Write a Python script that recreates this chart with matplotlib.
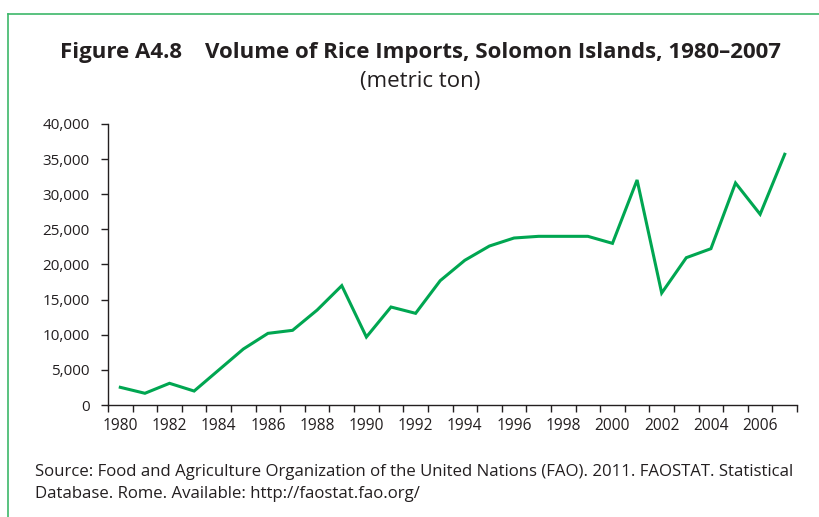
import numpy as np
import matplotlib
matplotlib.use("Agg")
import matplotlib.pyplot as plt
from matplotlib.lines import Line2D

plt.rcParams["font.family"] = ["Open Sans", "DejaVu Sans"]

# data
years = list(range(1980, 2008))
imports = [
    2520, 1670, 3090, 1990, 4980, 7970, 10200, 10630, 13520, 16990,
    9680, 13950, 13050, 17700, 20600, 22630, 23770, 24010, 24010, 24010,
    23010, 32030, 15940, 20970, 22250, 31600, 27150, 35690,
]
y_ticks = [0, 5000, 10000, 15000, 20000, 25000, 30000, 35000, 40000]
label_years = years[::2]

text_color = "#231f20"
line_green = "#00a651"
frame_green = "#3db86a"

fig = plt.figure(figsize=(8.2, 5.17), dpi=100)
ax = fig.add_axes([0.1317, 0.2166, 0.8403, 0.5436])

x = np.arange(len(years))
ax.plot(x, imports, color=line_green, linewidth=2.2, solid_joinstyle="miter")

ax.set_xlim(-0.5, len(years) - 0.5)
ax.set_ylim(0, 40000)

# category-style x axis: ticks on boundaries, labels in the middle
ax.set_xticks(np.arange(-0.5, len(years), 1.0))
ax.set_xticklabels([])
ax.set_xticks([years.index(yr) for yr in label_years], minor=True)
ax.set_xticklabels([str(yr) for yr in label_years], minor=True)
ax.tick_params(axis="x", which="major", length=5, width=1, color=text_color)
ax.tick_params(axis="x", which="minor", length=0, pad=9,
               labelsize=11.2, labelcolor=text_color)

ax.set_yticks(y_ticks)
ax.set_yticklabels([f"{v:,}" for v in y_ticks])
ax.tick_params(axis="y", length=5, width=1, color=text_color, pad=8,
               labelsize=11, labelcolor=text_color)

for side in ["top", "right"]:
    ax.spines[side].set_visible(False)
for side in ["left", "bottom"]:
    ax.spines[side].set_color(text_color)
    ax.spines[side].set_linewidth(1.0)

fig.text(0.513, 0.888, "Figure A4.8    Volume of Rice Imports, Solomon Islands, 1980\u20132007",
         ha="center", va="baseline", fontsize=16, fontweight="bold", color=text_color)
fig.text(0.513, 0.832, "(metric ton)", ha="center", va="baseline",
         fontsize=16, color=text_color)

fig.text(0.043, 0.079,
         "Source: Food and Agriculture Organization of the United Nations (FAO). 2011. FAOSTAT. Statistical",
         ha="left", va="baseline", fontsize=12.1, color=text_color)
fig.text(0.043, 0.036, "Database. Rome. Available: http://faostat.fao.org/",
         ha="left", va="baseline", fontsize=12.1, color=text_color)

# green frame at the top and left edges
fig.add_artist(Line2D([0.0098, 0.0098], [0.0, 0.973], transform=fig.transFigure,
                      color=frame_green, linewidth=1.2))
fig.add_artist(Line2D([0.0098, 1.0], [0.973, 0.973], transform=fig.transFigure,
                      color=frame_green, linewidth=1.2))

fig.savefig("out.png", dpi=100)
